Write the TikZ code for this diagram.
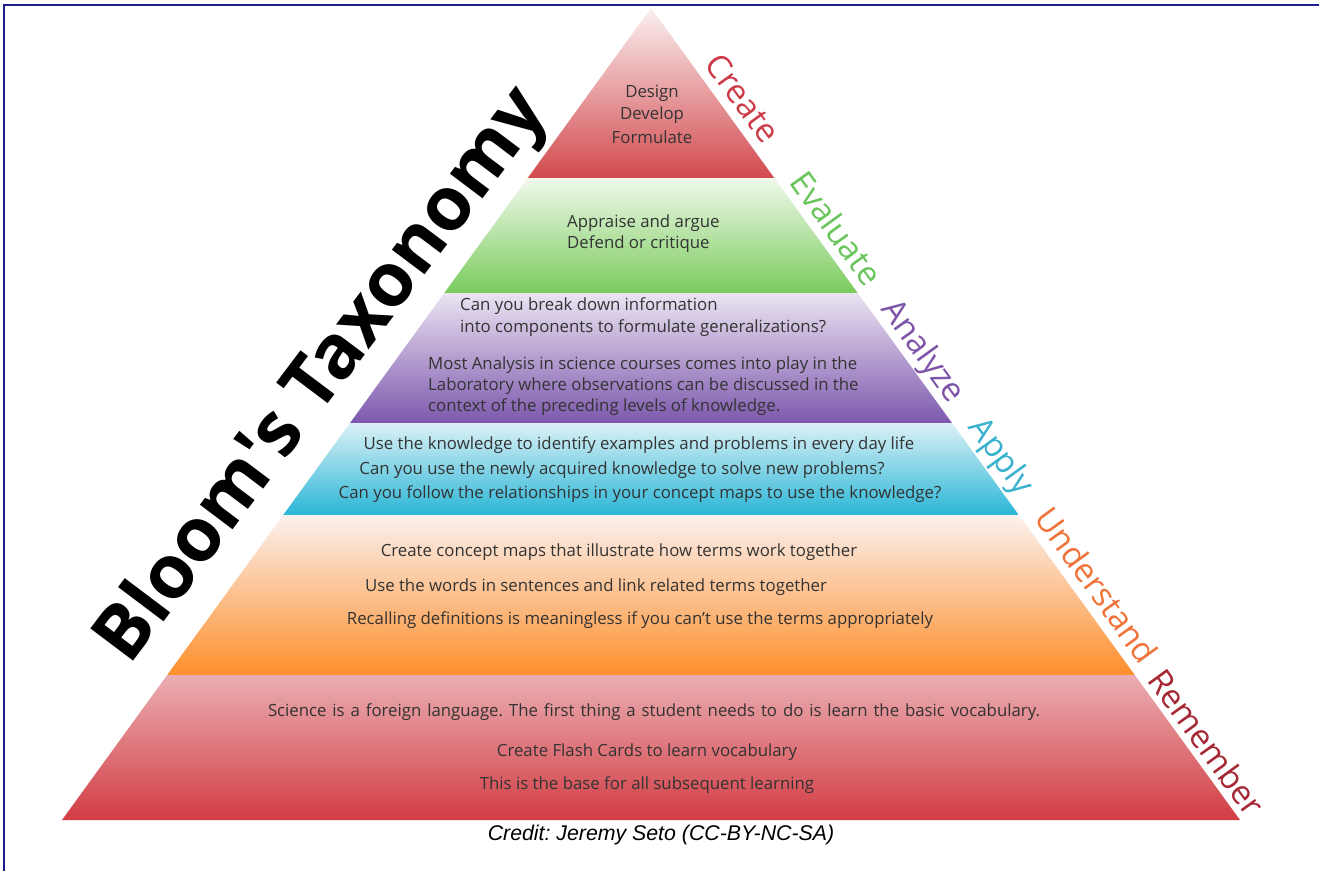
\documentclass[tikz,border=0pt]{standalone}
\usepackage{fontspec}
\setmainfont{Open Sans}
\newfontfamily\creditfont{Liberation Sans}
\newfontfamily\titlefont{Open Sans}[Ligatures=TeXOff]
\frenchspacing
\definecolor{frameblue}{HTML}{1C1C8E}
\definecolor{txt}{HTML}{333333}
\definecolor{crTop}{HTML}{FBF0F0}\definecolor{crBot}{HTML}{D24A4E}
\definecolor{evTop}{HTML}{F0F9EC}\definecolor{evBot}{HTML}{7ACB5C}
\definecolor{anTop}{HTML}{EBE4F2}\definecolor{anBot}{HTML}{7D58AD}
\definecolor{apTop}{HTML}{DCF1F6}\definecolor{apBot}{HTML}{2AB6D6}
\definecolor{unTop}{HTML}{FBF1EF}\definecolor{unBot}{HTML}{FD8F2C}
\definecolor{reTop}{HTML}{EAAEB2}\definecolor{reBot}{HTML}{D23D44}
\definecolor{crLab}{HTML}{CC3C48}
\definecolor{evLab}{HTML}{6AC45C}
\definecolor{anLab}{HTML}{7E54A8}
\definecolor{apLab}{HTML}{3AB2CE}
\definecolor{unLab}{HTML}{F0743A}
\definecolor{reLab}{HTML}{A52834}
\tikzset{
  body/.style={text=txt,font=\fontsize{16.8}{22}\selectfont,inner sep=0pt},
  bodyl/.style={body,anchor=west,align=left},
  lvl/.style={font=\fontsize{33}{38}\selectfont,rotate=-54.04,inner sep=0pt}
}
\begin{document}
\begin{tikzpicture}[x=1pt,y=-1pt]
\useasboundingbox (0,0) rectangle (1319,871);
\fill[white] (0,0) rectangle (1319,871);
% frame
\draw[frameblue,line width=2pt] (3.5,871) -- (3.5,4.5) -- (1319,4.5);
% layers
\shade[top color=crTop,bottom color=crBot] (651,8) -- (774.3,178) -- (527.7,178) -- cycle;
\shade[top color=evTop,bottom color=evBot] (527.7,178) -- (774.3,178) -- (857.7,293) -- (444.3,293) -- cycle;
\shade[top color=anTop,bottom color=anBot] (444.3,293) -- (857.7,293) -- (952,423) -- (350,423) -- cycle;
\shade[top color=apTop,bottom color=apBot] (350,423) -- (952,423) -- (1018.8,515) -- (283.2,515) -- cycle;
\shade[top color=unTop,bottom color=unBot] (283.2,515) -- (1018.8,515) -- (1134.8,675) -- (167.2,675) -- cycle;
\shade[top color=reTop,bottom color=reBot] (167.2,675) -- (1134.8,675) -- (1240,820) -- (62,820) -- cycle;
% level labels
\node[lvl,text=crLab] (lcr) at (743,98) {Create};
\node[lvl,text=evLab] (lev) at (837,228) {Evaluate};
\node[lvl,text=anLab] (lan) at (922,352) {Analyze};
\node[lvl,text=apLab] (lap) at (1000,457) {Apply};
\node[lvl,text=unLab] (lun) at (1097,585) {Understand};
\node[lvl,text=reLab] (lre) at (1207,742) {Remember};
% title
\node[font=\titlefont\bfseries\fontsize{75}{85}\selectfont,rotate=53,inner sep=0pt] (title) at (324,377) {Bloom's Taxonomy};
% create
\node[body] (c1) at (652,93) {Design};
\node[body] (c2) at (652,115) {Develop};
\node[body] (c3) at (652,137) {Formulate};
% evaluate
\node[bodyl] (e1) at (567,223) {Appraise and argue};
\node[bodyl] (e2) at (567,244) {Defend or critique};
% analyze
\node[bodyl] (a1) at (460,306) {Can you break down information};
\node[bodyl] (a2) at (460,328) {into components to formulate generalizations?};
\node[bodyl] (a3) at (428,365) {Most Analysis in science courses comes into play in the};
\node[bodyl] (a4) at (428,386) {Laboratory where observations can be discussed in the};
\node[bodyl] (a5) at (428,407) {context of the preceding levels of knowledge.};
% apply
\node[body] (p1) at (639,445) {Use the knowledge to identify examples and problems in every day life};
\node[body] (p2) at (622,470) {Can you use the newly acquired knowledge to solve new problems?};
\node[body] (p3) at (640,494) {Can you follow the relationships in your concept maps to use the knowledge?};
% understand
\node[body] (u1) at (619,552) {Create concept maps that illustrate how terms work together};
\node[body] (u2) at (596,587) {Use the words in sentences and link related terms together};
\node[body] (u3) at (640,620) {Recalling definitions is meaningless if you can’t use the terms appropriately};
% remember
\node[body] (r1) at (654,712) {\makebox[772pt][s]{Science is a foreign language. The first thing a student needs to do is learn the basic vocabulary.}};
\node[body] (r2) at (647,752) {Create Flash Cards to learn vocabulary};
\node[body] (r3) at (647,785) {This is the base for all subsequent learning};
% credit
\node[font=\creditfont\itshape\fontsize{21.3}{24}\selectfont,inner sep=0pt] (credit) at (661,835) {Credit: Jeremy Seto (CC-BY-NC-SA)};
\end{tikzpicture}
\end{document}
